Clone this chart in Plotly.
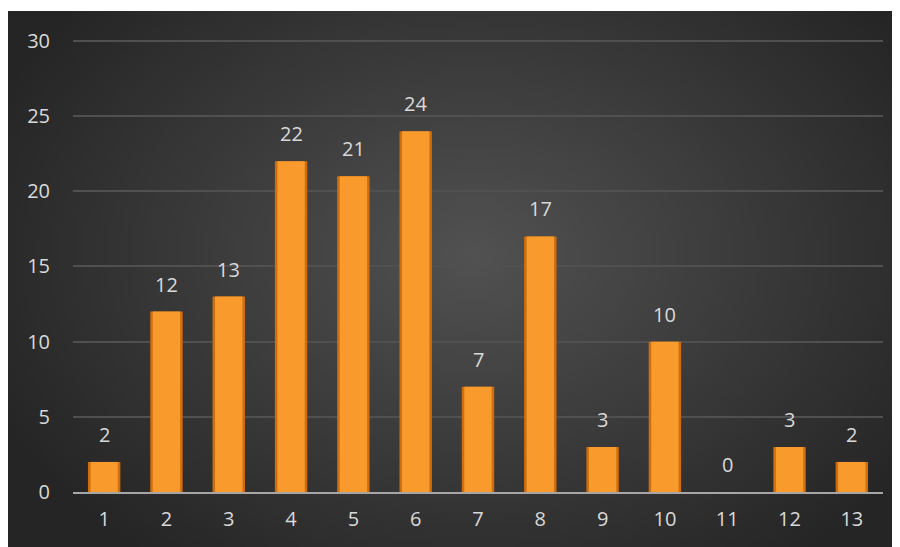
import base64
import struct
import zlib

import numpy as np
import plotly.graph_objects as go

# data
categories = ['1', '2', '3', '4', '5', '6', '7', '8', '9', '10', '11', '12', '13']
values = [2, 12, 13, 22, 21, 24, 7, 17, 3, 10, 0, 3, 2]
y_ticks = [0, 5, 10, 15, 20, 25, 30]

# page body has an 8px margin, so the figure is a bit smaller than the window
W, H = 892, 539


# radial grey gradient for the dark chart area, built as a small png
def gradient_png(w, h):
    yy, xx = np.mgrid[0:h, 0:w]
    cx, cy = w * 0.52, h * 0.45
    d = np.sqrt(((xx - cx) / (w * 0.6)) ** 2 + ((yy - cy) / (h * 0.72)) ** 2)
    d = np.clip(d, 0, 1)
    v = (82 - 45 * d).astype(np.uint8)
    rgb = np.stack([v, v, v], axis=-1)
    raw = b''.join(b'\x00' + rgb[r].tobytes() for r in range(h))

    def chunk(tag, data):
        c = struct.pack('>I', len(data)) + tag + data
        return c + struct.pack('>I', zlib.crc32(tag + data) & 0xffffffff)

    png = b'\x89PNG\r\n\x1a\n'
    png += chunk(b'IHDR', struct.pack('>IIBBBBB', w, h, 8, 2, 0, 0, 0))
    png += chunk(b'IDAT', zlib.compress(raw, 9))
    png += chunk(b'IEND', b'')
    return 'data:image/png;base64,' + base64.b64encode(png).decode()


ml, mr, mt, mb = 65, 17, 28, 55
pw, ph = W - ml - mr, H - mt - mb

fig = go.Figure()
# outer (darker edge) bar and a lighter inner face for a bit of bevel
fig.add_trace(go.Bar(
    x=categories, y=values, width=0.52,
    marker=dict(color='#cf6e0e', line=dict(width=0)),
    hoverinfo='skip',
))
fig.add_trace(go.Bar(
    x=categories, y=values, width=0.44,
    marker=dict(color='#f89a2c', line=dict(width=0)),
))

# value labels sit well above each bar
for i, v in enumerate(values):
    fig.add_annotation(x=i, y=v, text=str(v), showarrow=False,
                       yanchor='bottom', yshift=12,
                       font=dict(size=20, color='#d9d9d9'))

# dark panel behind everything
fig.add_layout_image(
    source=gradient_png(180, 108),
    xref='paper', yref='paper',
    x=-ml / pw, y=1 + (mt - 3) / ph,
    sizex=W / pw, sizey=(H - 3) / ph,
    xanchor='left', yanchor='top',
    sizing='stretch', layer='below',
)

fig.update_layout(
    width=W, height=H,
    margin=dict(l=ml, r=mr, t=mt, b=mb),
    paper_bgcolor='white',
    plot_bgcolor='rgba(0,0,0,0)',
    font=dict(family='Open Sans, Liberation Sans, sans-serif', color='#d9d9d9', size=20),
    barmode='overlay',
    showlegend=False,
    xaxis=dict(type='category', showgrid=False, ticks='', showline=True,
               linecolor='#a6a6a6', linewidth=2,
               ticklabelstandoff=8, tickfont=dict(size=20, color='#d9d9d9')),
    yaxis=dict(range=[0, 30.33], tickvals=y_ticks, gridcolor='#505050', gridwidth=1.5,
               zeroline=False, ticks='', ticklabelstandoff=22,
               tickfont=dict(size=20, color='#d9d9d9')),
)

fig.write_html('out.html')
